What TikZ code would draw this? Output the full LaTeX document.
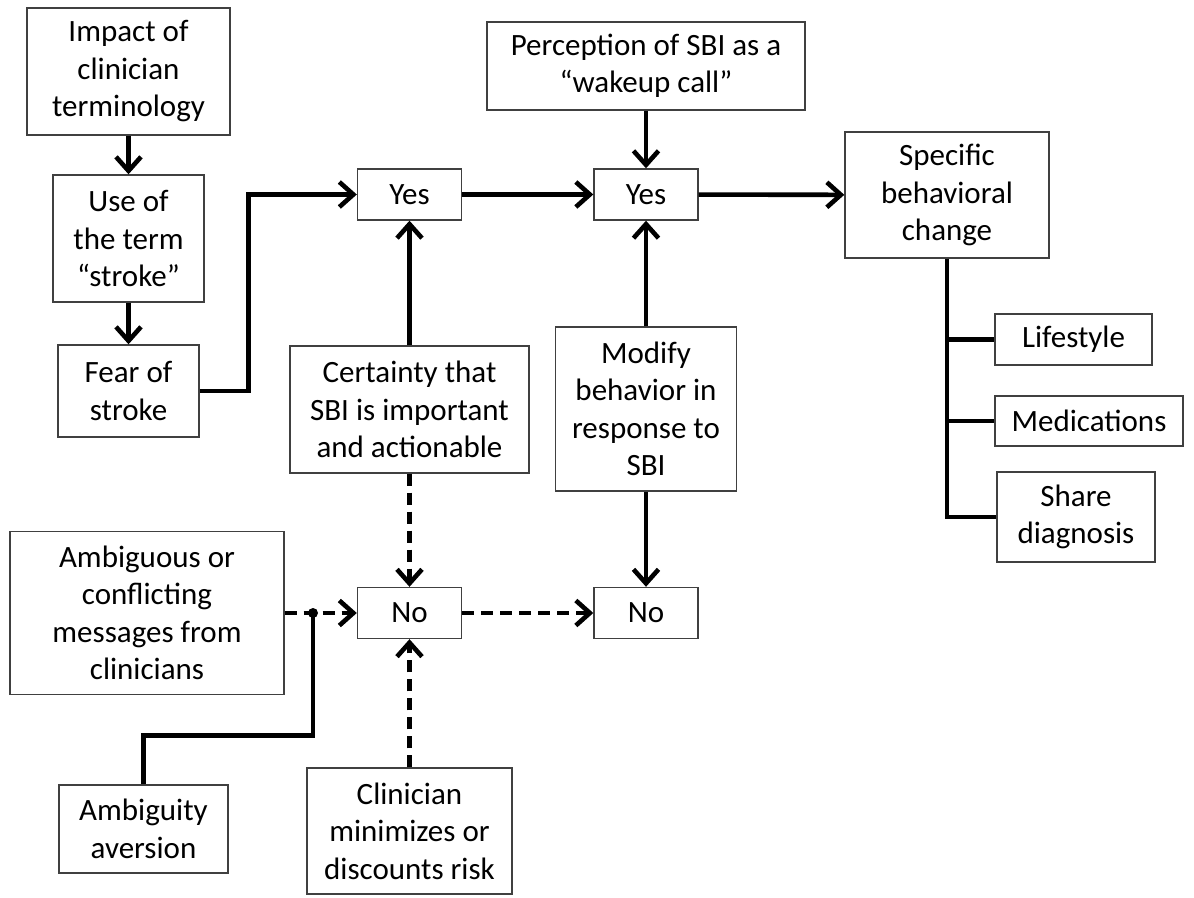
\documentclass[tikz,border=0pt]{standalone}
\usepackage{fontspec}
\setmainfont{Carlito}
\usepackage{tikz}
\usetikzlibrary{arrows.meta,positioning}
\newcommand\flowfont{\fontsize{15.5pt}{18.75pt}\selectfont}
\tikzset{
  flowbox/.style={draw=black!75, line width=0.7pt, align=center, font=\flowfont,
    inner sep=2pt, fill=white},
  decision/.style={flowbox, minimum width=52pt, minimum height=25.5pt},
  flowline/.style={line width=2.3pt},
  flowarrow/.style={flowline, -{Straight Barb[length=7pt, width=12.5pt]}},
  flowdash/.style={flowarrow, dash pattern=on 6pt off 3.5pt},
}

\begin{document}
\begin{tikzpicture}[x=0.5pt, y=-0.5pt]
  \useasboundingbox (0,0) rectangle (1194,898);
  % left column
  \node[flowbox, minimum width=101.5pt, minimum height=63.5pt] (impact) at (128.5,71.5) {Impact of\\clinician\\terminology};
  \node[flowbox, minimum width=75.5pt, minimum height=63.5pt] (useterm) at (128.5,238.5) {Use of\\the term\\“stroke”};
  \node[flowbox, minimum width=70.5pt, minimum height=46pt] (fear) at (128.5,391) {Fear of\\stroke};
  \draw[flowarrow] (impact) -- (useterm);
  \draw[flowarrow] (useterm) -- (fear);
  % yes row
  \node[decision] (yesa) at (409.5,194.5) {Yes};
  \node[decision] (yesb) at (646,194.5) {Yes};
  \node[flowbox, minimum width=159pt, minimum height=44pt] (wakeup) at (646,66) {Perception of SBI as a\\“wakeup call”};
  \node[flowbox, minimum width=102pt, minimum height=63pt] (change) at (947,195) {Specific\\behavioral\\change};
  \draw[flowarrow] (fear.east) -- ++(49,0) |- (yesa.west);
  \draw[flowarrow] (yesa) -- (yesb);
  \draw[flowarrow] (wakeup) -- (yesb);
  \draw[flowarrow] (yesb) -- (change);
  % kinds of change
  \node[flowbox, minimum width=78.5pt, minimum height=25.5pt] (lifestyle) at (1073.5,339.5) {Lifestyle};
  \node[flowbox, minimum width=94pt, minimum height=25pt] (meds) at (1089,421) {Medications};
  \node[flowbox, minimum width=79pt, minimum height=45pt] (share) at (1076,517) {Share\\diagnosis};
  \draw[flowline] (change.south) -- (change.south |- share.west) -- (share.west);
  \draw[flowline] (change.south |- lifestyle.west) -- (lifestyle.west);
  \draw[flowline] (change.south |- meds.west) -- (meds.west);
  % middle
  \node[flowbox, minimum width=119.5pt, minimum height=63.5pt] (certain) at (409.5,409.5) {Certainty that\\SBI is important\\and actionable};
  \node[flowbox, minimum width=90.5pt, minimum height=82pt] (modify) at (646,409) {Modify\\behavior in\\response to\\SBI};
  \draw[flowarrow] (certain) -- (yesa);
  \draw[flowarrow] (modify) -- (yesb);
  % no row
  \node[decision] (noa) at (409.5,613) {No};
  \node[decision] (nob) at (646,613) {No};
  \draw[flowdash] (certain) -- (noa);
  \draw[flowarrow] (modify) -- (nob);
  \draw[flowdash] (noa) -- (nob);
  % bottom left
  \node[flowbox, minimum width=137pt, minimum height=81.5pt] (ambig) at (147,613) {Ambiguous or\\conflicting\\messages from\\clinicians};
  \node[flowbox, minimum width=84.5pt, minimum height=44pt] (aversion) at (143.5,829) {Ambiguity\\aversion};
  \node[flowbox, minimum width=102.5pt, minimum height=63pt] (minimize) at (409.5,831) {Clinician\\minimizes or\\discounts risk};
  \coordinate (join) at (313,613);
  \draw[flowdash] (ambig) -- (noa);
  \draw[flowline] (aversion.north) -- ++(0,-49) -| (join);
  \fill (join) circle[radius=2.5pt];
  \draw[flowdash] (minimize) -- (noa);
\end{tikzpicture}
\end{document}
